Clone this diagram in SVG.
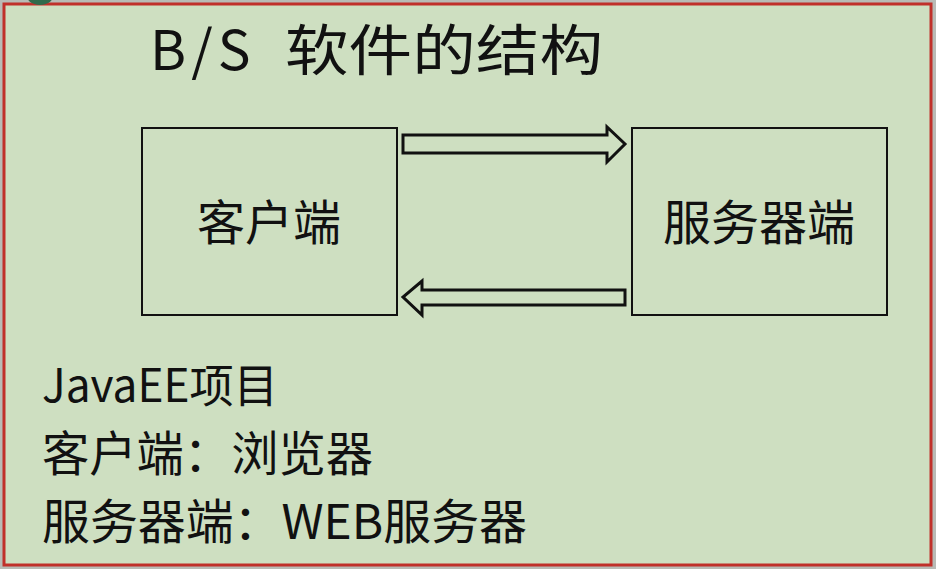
<svg xmlns="http://www.w3.org/2000/svg" width="936" height="569" viewBox="0 0 936 569">
  <style>
    .txt { font-family: "Noto Sans CJK SC", "Liberation Sans", sans-serif; fill: #111; font-weight: 400; }
    .box { fill: none; stroke: #111; stroke-width: 2; }
    .arrow { fill: none; stroke: #111; stroke-width: 3; stroke-linejoin: miter; }
  </style>
  <defs>
    <clipPath id="clipTop"><rect x="0" y="0" width="936" height="569"/></clipPath>
  </defs>
  <rect x="0" y="0" width="936" height="569" fill="#b9bbb6"/>
  <rect x="4" y="4" width="927" height="561" fill="#cedfc1" stroke="#c0302a" stroke-width="3"/>
  <ellipse cx="40" cy="-8" rx="15" ry="13" fill="#2f6a4c" clip-path="url(#clipTop)"/>

  <g id="title">
    <text class="txt" y="70" font-size="55"><tspan x="150" letter-spacing="5">B/S </tspan><tspan x="285" textLength="318" lengthAdjust="spacingAndGlyphs">软件的结构</tspan></text>
  </g>

  <g id="node-client">
    <rect class="box" x="142" y="128" width="255" height="187"/>
    <text class="txt" x="269" y="240" font-size="48" text-anchor="middle">客户端</text>
  </g>

  <g id="node-server">
    <rect class="box" x="632" y="128" width="255" height="187"/>
    <text class="txt" x="759" y="240" font-size="48" text-anchor="middle">服务器端</text>
  </g>

  <g id="connectors">
    <polygon class="arrow" points="403,135 607,135 607,127 625,144 607,162 607,153 403,153"/>
    <polygon class="arrow" points="625,290 422,290 422,281 403,297 422,315 422,305 625,305"/>
  </g>

  <g id="notes">
    <text class="txt" x="42" y="402" font-size="46" textLength="236" lengthAdjust="spacingAndGlyphs">JavaEE项目</text>
    <text class="txt" x="42" y="471" font-size="48" textLength="331" lengthAdjust="spacingAndGlyphs">客户端：浏览器</text>
    <text class="txt" x="42" y="539" font-size="48" textLength="485" lengthAdjust="spacingAndGlyphs">服务器端：WEB服务器</text>
  </g>
</svg>
